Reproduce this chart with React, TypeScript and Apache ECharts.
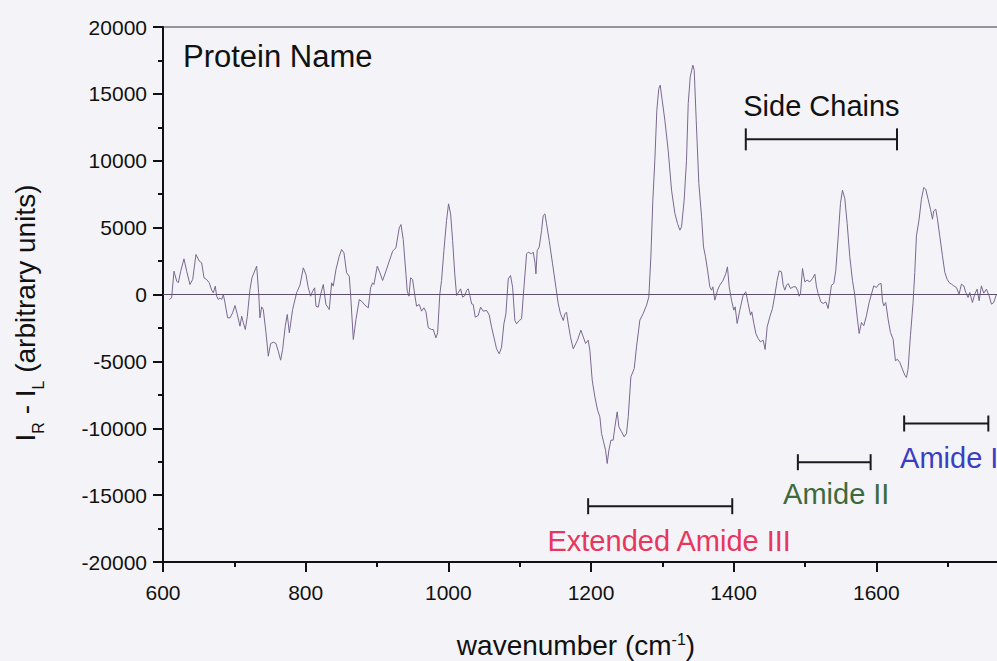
import React, { useEffect, useRef } from 'react';
import * as echarts from 'echarts';

// ---- Spectrum data ----
const wavenumber = [
  608.9, 612.1, 615.4, 619.2, 621.5, 624.8, 629.4, 633.2, 637.8, 641.6, 646.2, 650.9, 654.2, 657.5, 661.2, 664.9, 668.2, 670.5, 673.3, 675.2,
  677.5, 679.9, 682.2, 684.6, 686.9, 690.6, 693.9, 697.6, 700.9, 704.2, 707.9, 710.3, 712.6, 715.4, 718.2, 721.9, 724.7, 731.3, 734.1, 735.9,
  738.3, 740.6, 744.4, 747.6, 750.9, 754.6, 758.4, 761.6, 764.9, 767.7, 771.4, 774.2, 777.1, 781.7, 787.3, 792.0,
  796.7, 800.4, 803.7, 807.0, 809.8, 812.6, 814.4, 817.7, 821.0, 824.7, 828.4, 833.1, 836.4, 838.7, 842.5, 847.1, 850.4, 853.7, 857.4, 861.1,
  863.0, 866.8, 870.5, 875.2, 878.4, 883.1, 887.8, 891.0, 893.8, 895.7, 900.4, 904.1, 907.9, 912.5, 917.2, 921.9, 926.5, 931.2, 933.6, 936.8,
  940.6, 942.4, 944.8, 947.1, 949.9, 953.2, 955.5, 959.3, 962.5, 965.8, 968.6, 971.9, 976.5, 978.9, 982.6, 985.0, 988.0,
  990.5, 993.8, 997.5, 1000.3, 1003.2, 1006.0, 1009.0, 1011.6, 1014.4, 1017.2, 1020.0, 1023.2, 1025.6, 1027.9, 1030.2, 1032.6, 1034.9, 1037.7,
  1041.9, 1045.2, 1048.9, 1053.6, 1057.3, 1060.6, 1063.9, 1067.6, 1071.4, 1074.6, 1077.9, 1080.7, 1084.0, 1087.2, 1090.1, 1093.3, 1095.7,
  1099.4, 1102.7, 1106.0, 1109.7, 1112.0, 1116.7, 1119.0, 1121.4, 1122.8, 1124.6, 1127.4, 1130.7, 1133.0, 1135.4, 1137.7, 1141.4, 1146.1,
  1150.8, 1154.1, 1157.3, 1161.1, 1163.4, 1165.7, 1168.1, 1171.3, 1175.1,
  1181.1, 1185.8, 1189.1, 1192.4, 1196.1, 1198.4, 1201.7, 1205.4, 1209.2, 1212.4, 1214.8, 1217.6, 1220.4, 1222.7, 1225.1, 1227.9, 1231.1,
  1233.5, 1236.7, 1239.1, 1242.8, 1246.5, 1249.8, 1252.2, 1255.9, 1260.6, 1263.8, 1268.5, 1273.2, 1277.9, 1281.1, 1283.9, 1286.7, 1289.5,
  1292.3, 1295.1, 1297.0, 1299.8, 1303.5, 1308.2, 1312.9, 1317.6, 1321.3, 1324.6, 1326.9, 1330.6, 1333.9, 1336.3, 1339.1, 1342.8, 1344.7,
  1347.5, 1351.2, 1355.0, 1357.7, 1360.5, 1363.4, 1366.6, 1369.0, 1370.8, 1373.6, 1377.4,
  1380.6, 1385.3, 1389.0, 1391.3, 1393.7, 1397.0, 1400.2, 1402.1, 1404.9, 1408.6, 1413.3, 1417.0, 1420.3, 1423.6, 1425.4, 1428.3, 1431.1,
  1434.3, 1437.6, 1441.3, 1444.1, 1447.0, 1450.7, 1454.4, 1457.7, 1461.0, 1463.8, 1467.0, 1469.4, 1471.7, 1474.1, 1476.4, 1479.7, 1483.4,
  1487.1, 1489.9, 1491.8, 1493.7, 1496.5, 1499.7, 1503.0, 1506.7, 1510.5, 1513.8, 1516.1, 1518.4, 1522.2, 1525.4, 1529.2, 1532.4, 1534.8,
  1537.1, 1540.4, 1543.2, 1546.5, 1549.7, 1552.5, 1555.8, 1559.1, 1562.8, 1566.5, 1569.8, 1573.1, 1575.9,
  1579.1, 1582.4, 1586.1, 1589.9, 1593.2, 1596.4, 1600.2, 1603.4, 1606.7, 1608.6, 1610.4, 1613.2, 1616.5, 1619.8, 1623.5, 1626.8, 1629.6,
  1632.9, 1636.6, 1639.9, 1642.2, 1644.5, 1647.8, 1651.5, 1653.9, 1656.2, 1660.0, 1663.2, 1666.5, 1669.3, 1672.6, 1675.9, 1678.7, 1680.5,
  1683.3, 1685.7, 1688.9, 1692.7, 1696.0, 1699.2, 1702.0, 1705.3, 1708.5, 1712.3, 1716.0, 1719.3, 1722.6, 1725.4, 1728.6, 1731.0, 1734.7,
  1738.0, 1741.3, 1744.1, 1747.3, 1750.6, 1754.3, 1758.1, 1761.4, 1764.6, 1768.4,
];

const signal = [
  -374, -249, 1744, 997, 872, 1744, 2667, 1744, 748, 1122, 2991, 2492, 2368, 1246, 1122, 872, 324, 125, 623, -125,
  -374, -249, -374, 0, -623, -1745, -1745, -1371, -822, -1495, -2368, -1620, -2118, -2617, -1620, 374, 1246, 2118, 125, -1745,
  -922, -1122, -2866, -4611, -3664, -3564, -3664, -4237, -4910, -4112, -2368, -1495, -2866, -1122, 125, 700,
  1994, 1495, 498, -125, 249, 498, -872, -947, 0, 748, -748, -1121, 872, 623, 1869, 2866, 3364, 3115, 1620, 1371,
  0, -3364, -1869, -374, -498, -797, -997, 498, 872, 748, 2118, 1620, 1047, 1744, 2492, 3240, 3489, 4984, 5233, 4112,
  1495, 249, -125, 1246, 1121, -125, -872, -748, -1246, -997, -1296, -2492, -2617, -2617, -3240, -2866, 0,
  1047, 3289, 5532, 6778, 6030, 4037, 1545, -75, 174, 424, -199, -75, 299, 424, -75, -698, -748, -1695,
  -1570, -947, -1246, -1196, -1520, -2442, -3190, -4062, -4436, -3937, -2193, -1445, 1171, 1420, 548, -1944, -2193,
  -1944, -1819, 548, 3040, 3165, 3040, 3165, 2417, 1545, 3289, 3539, 4785, 5906, 6030, 5283, 4037, 2293,
  548, -698, -1445, -1944, -1445, -1321, -2193, -3190, -4062,
  -3414, -2666, -3165, -3663, -3414, -4162, -6404, -7650, -8647, -9146, -10392, -11015, -11637, -12634, -11637, -10890, -10890,
  -9893, -8772, -9893, -10267, -10641, -10392, -9146, -6155, -5532, -3912, -1919, -1420, -797, -174, 2816, 7052, 10043,
  13781, 15401, 15650, 14529, 13033, 10790, 7800, 6056, 5308, 4810, 5059, 7052, 10043, 14279, 16273, 17145, 16771,
  13033, 8298, 5806, 3564, 2816, 1819, 573, 324, 573, -424, 324,
  698, 1072, 1570, 2068, 573, -424, -1171, -922, -2168, -1171, -50, 199, -673, -1545, -1296, -2168, -2916,
  -3289, -3539, -3414, -4112, -2417, -1670, -1047, -50, 1072, 1769, 1695, 698, 324, 698, 822, 449, 573,
  573, 274, -125, 75, 1944, 947, 1072, 947, 1196, 1520, 573, 75, -548, -673, -548, -1047, -174,
  698, 822, 1819, 4311, 6803, 7800, 7177, 5308, 2816, 1072, -50, -1670, -2916,
  -2093, -2342, -1595, -598, 25, 648, 523, 773, 822, -473, -847, -598, -1844, -2841, -3339, -4959, -4835,
  -5084, -5582, -6031, -6205, -5582, -3090, -598, 1645, 4386, 5632, 7127, 7999, 7875, 7127, 6380, 5632, 6255,
  6380, 5632, 4386, 2891, 1645, 1146, 897, 773, 648, 523, 25, 773, 648, 150, -224, 150, -598,
  25, 399, -473, 648, 100, 399, -100, -723, -598, 25,
];

// ---- Band annotations ----
const bandLabels = ['Side Chains', 'Extended Amide III', 'Amide II', 'Amide I'];
const bandStart = [1417, 1196, 1490, 1639];
const bandEnd = [1629, 1398, 1592, 1757];
const bandLevel = [11600, -15830, -12540, -9645];

// ---- Axis settings ----
const xMin = 600;
const xMax = 1800;
const xStep = 200;
const yMin = -20000;
const yMax = 20000;
const yStep = 5000;

// styles (not data)
const bandColors = ['#111111', '#e8365d', '#3d6a3d', '#3b3ec2'];
const labelDy = [-33, 35, 32, 34];
const labelDx = [0, 9, 2, 3];
const capHalf = [11, 8, 8, 8];

export default function App() {
  const ref = useRef<HTMLDivElement>(null);

  useEffect(() => {
    if (!ref.current) return;
    const chart = echarts.init(ref.current, null, { renderer: 'svg' });
    const font = "'Liberation Sans', Arial, Helvetica, sans-serif";
    const ink = '#111111';

    const axisCommon = {
      type: 'value',
      axisLine: { show: true, onZero: false, lineStyle: { color: ink, width: 2 } },
      axisTick: { show: true, inside: false, length: 10, lineStyle: { color: ink, width: 2 } },
      minorTick: { show: true, splitNumber: 2, length: 5, lineStyle: { color: ink, width: 2 } },
      splitLine: { show: false },
      minorSplitLine: { show: false },
    };

    const option: any = {
      animation: false,
      backgroundColor: '#f4f4f8',
      grid: {
        left: 163,
        top: 27,
        width: 856,
        height: 535,
        containLabel: false,
        outerBoundsMode: 'none',
        show: true,
        borderColor: '#3b3340',
        borderWidth: 1.2,
        backgroundColor: 'transparent',
      },
      xAxis: {
        ...axisCommon,
        min: xMin,
        max: xMax,
        interval: xStep,
        axisLabel: {
          fontSize: 21,
          color: ink,
          fontFamily: font,
          margin: 20,
          formatter: (v: number) => (v >= xMax ? '' : String(v)),
        },
      },
      yAxis: {
        ...axisCommon,
        min: yMin,
        max: yMax,
        interval: yStep,
        axisLabel: {
          fontSize: 21,
          color: ink,
          fontFamily: font,
          margin: 16,
          formatter: (v: number) => String(v),
        },
      },
      graphic: [
        {
          type: 'text',
          x: 183,
          y: 56,
          style: {
            text: 'Protein Name',
            fontSize: 31,
            fontFamily: font,
            fill: ink,
            align: 'left',
            verticalAlign: 'middle',
          },
        },
        {
          type: 'text',
          x: 576,
          y: 645,
          style: {
            text: '{m|wavenumber (cm}{s|-1}{m|)}',
            align: 'center',
            verticalAlign: 'middle',
            rich: {
              m: { fontSize: 28, lineHeight: 28, fontFamily: font, fill: ink, verticalAlign: 'middle' },
              s: { fontSize: 16, lineHeight: 16, fontFamily: font, fill: ink, verticalAlign: 'top' },
            },
          },
        },
        {
          type: 'text',
          x: 25,
          y: 313,
          rotation: Math.PI / 2,
          style: {
            text: '{m|I}{s|R}{m| - I}{s|L}{m| (arbitrary units)}',
            align: 'center',
            verticalAlign: 'middle',
            rich: {
              m: { fontSize: 28, lineHeight: 42, fontFamily: font, fill: ink, verticalAlign: 'middle' },
              s: { fontSize: 16, lineHeight: 16, fontFamily: font, fill: ink, verticalAlign: 'bottom' },
            },
          },
        },
      ],
      series: [
        {
          type: 'line',
          data: wavenumber.map((x, i) => [x, signal[i]]),
          showSymbol: false,
          symbol: 'none',
          lineStyle: { color: '#7a6890', width: 1 },
          z: 3,
          markLine: {
            silent: true,
            symbol: 'none',
            label: { show: false },
            lineStyle: { color: '#5d4e6c', width: 1, type: 'solid' },
            data: [{ yAxis: 0 }],
          },
        },
        {
          type: 'custom',
          z: 4,
          clip: false,
          encode: { x: [0, 1], y: 2 },
          data: bandLabels.map((_, i) => [bandStart[i], bandEnd[i], bandLevel[i], i]),
          renderItem: (params: any, api: any) => {
            const i = api.value(3);
            const a = api.coord([api.value(0), api.value(2)]);
            const b = api.coord([api.value(1), api.value(2)]);
            const h = capHalf[i];
            const st = { stroke: '#1a1a1a', lineWidth: 2 };
            return {
              type: 'group',
              children: [
                { type: 'line', shape: { x1: a[0], y1: a[1], x2: b[0], y2: b[1] }, style: st },
                { type: 'line', shape: { x1: a[0], y1: a[1] - h, x2: a[0], y2: a[1] + h }, style: st },
                { type: 'line', shape: { x1: b[0], y1: b[1] - h, x2: b[0], y2: b[1] + h }, style: st },
                {
                  type: 'text',
                  x: (a[0] + b[0]) / 2 + labelDx[i],
                  y: a[1] + labelDy[i],
                  style: {
                    text: bandLabels[i],
                    fill: bandColors[i],
                    fontSize: 29,
                    fontFamily: font,
                    align: 'center',
                    verticalAlign: 'middle',
                  },
                },
              ],
            };
          },
        },
      ],
    };

    chart.setOption(option);
    return () => chart.dispose();
  }, []);

  return (
    <div
      ref={ref}
      style={{ position: 'absolute', left: 0, top: 0, width: 997, height: 661 }}
    />
  );
}
